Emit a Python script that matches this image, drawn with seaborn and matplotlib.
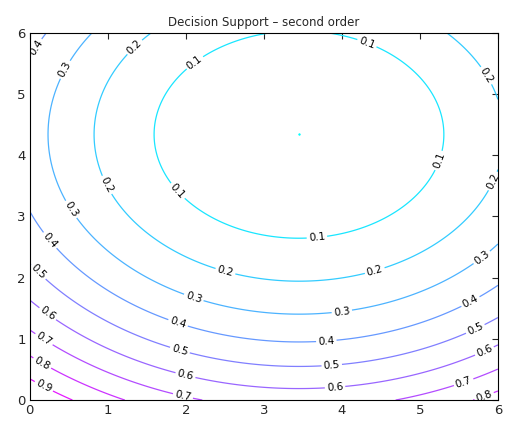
import numpy as np
import matplotlib
matplotlib.use("Agg")
import matplotlib.pyplot as plt
import seaborn as sns

# Second-order surface: f = a*(x-x0)^2 + b*(y-y0)^2
center_x = 3.45
center_y = 4.34
curv_x = 0.029
curv_y = 0.0348
levels = [0.1, 0.2, 0.3, 0.4, 0.5, 0.6, 0.7, 0.8, 0.9]
ticks = [0, 1, 2, 3, 4, 5, 6]

# where the labels sit on the lines (MATLAB-like placement)
label_pos = [
    (0.13, 5.72), (0.51, 5.36), (1.38, 5.72), (2.14, 5.47), (4.32, 5.83),
    (5.86, 5.31), (5.23, 3.92), (5.90, 3.60), (0.98, 3.51), (1.88, 3.40),
    (0.51, 3.10), (0.23, 2.58), (0.19, 2.20), (0.19, 1.34), (0.15, 0.93),
    (0.13, 0.54), (0.15, 0.15), (2.50, 2.07), (2.09, 1.63), (1.90, 1.26),
    (1.92, 0.80), (1.99, 0.38), (1.96, 0.05), (3.68, 2.66), (4.42, 2.12),
    (4.00, 1.44), (3.80, 0.98), (3.87, 0.57), (3.91, 0.25), (5.77, 2.37),
    (5.64, 1.63), (5.70, 1.19), (5.81, 0.85), (5.55, 0.33), (5.81, 0.11),
]

sns.set_style("white")
plt.rcParams["font.family"] = ["DejaVu Sans"]

xs = np.linspace(0, 6, 241)
ys = np.linspace(0, 6, 241)
X, Y = np.meshgrid(xs, ys)
Z = curv_x * (X - center_x) ** 2 + curv_y * (Y - center_y) ** 2

fig = plt.figure(figsize=(5.05, 4.22), dpi=100)
ax = fig.add_axes([0.059, 0.052, 0.927, 0.870])

cs = ax.contour(X, Y, Z, levels=levels, cmap="cool", vmin=0, vmax=1.0, linewidths=0.9)
ax.clabel(cs, levels, fmt="%g", fontsize=7.5, colors="black", inline=True,
          inline_spacing=2, manual=label_pos)
ax.plot([center_x], [center_y], marker="+", markersize=2, color="#00ffff", lw=0)

ax.set_xlim(0, 6)
ax.set_ylim(0, 6)
ax.set_xticks(ticks)
ax.set_yticks(ticks)
ax.tick_params(direction="in", length=4, width=0.8, labelsize=9.5,
               top=True, right=True, pad=3)
for s in ax.spines.values():
    s.set_color("black")
    s.set_linewidth(0.8)
ax.set_title("Decision Support \u2013 second order", fontsize=8.5, pad=5)

fig.savefig("out.png", dpi=100)
